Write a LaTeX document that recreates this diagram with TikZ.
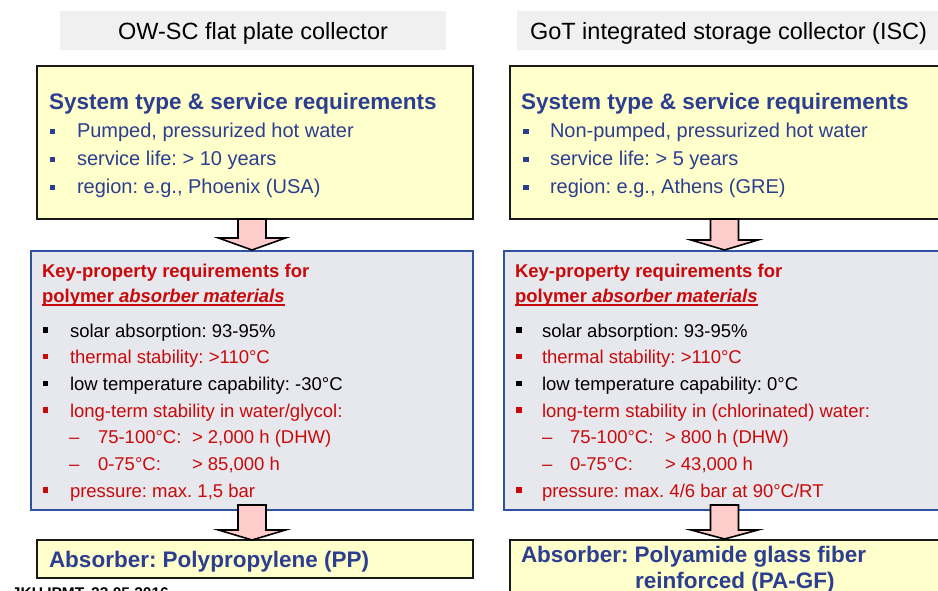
\documentclass[tikz,border=0pt]{standalone}
\usepackage{fontspec}
\setmainfont{Liberation Sans}
\frenchspacing
\definecolor{hdrgray}{RGB}{240,240,240}
\definecolor{paleyellow}{RGB}{255,255,204}
\definecolor{palegray}{RGB}{231,231,238}
\definecolor{frameblue}{RGB}{47,82,160}
\definecolor{pinkfill}{RGB}{255,204,204}
\definecolor{textblue}{RGB}{44,62,143}
\definecolor{textred}{RGB}{200,10,10}
\newcommand\ttlfont{\fontsize{23.5}{28}\selectfont}
\newcommand\headfont{\fontsize{22.5}{27}\selectfont\bfseries}
\newcommand\itemfont{\fontsize{20}{24}\selectfont}
\newcommand\keyfont{\fontsize{18.5}{22}\selectfont\bfseries}
\newcommand\listfont{\fontsize{18.5}{22}\selectfont}
\newcommand\footfont{\fontsize{15.5}{18}\selectfont\bfseries}
% small square bullet: centre x, centre y, half size, colour
\newcommand\sqbul[4]{\fill[#4] (#1-#3,#2-#3) rectangle (#1+#3,#2+#3);}
% block arrow: centre x, shaft top, head base, tip
\newcommand\blockarrow[4]{\draw[blockarr] (#1-14,#2) -- (#1-14,#3) -- (#1-33.5,#3) -- (#1,#4) -- (#1+33.5,#3) -- (#1+14,#3) -- (#1+14,#2) -- cycle;}
\begin{document}
\begin{tikzpicture}[x=1pt,y=-1pt,
  hdrbox/.style={fill=hdrgray, draw=none, inner sep=0pt},
  ybox/.style={fill=paleyellow, draw=black!90, line width=1.6pt, inner sep=0pt},
  gbox/.style={fill=palegray, draw=frameblue, line width=1.4pt, inner sep=0pt},
  blockarr/.style={fill=pinkfill, draw=black, line width=1.6pt, line join=miter},
  txt/.style={anchor=base west, inner sep=0pt, outer sep=0pt}]
\useasboundingbox (0,0) rectangle (938,591);

% column headers
\node[hdrbox, minimum width=386pt, minimum height=39pt] (hdrL) at (253,30.5) {};
\node[hdrbox, minimum width=428pt, minimum height=39pt] (hdrR) at (731,30.5) {};
\node[txt, anchor=base] (ttlL) at (253,40) {\ttlfont OW-SC flat plate collector};
\node[txt] (ttlR) at (530,40) {\ttlfont GoT integrated storage collector (ISC)};

% system boxes
\node[ybox, minimum width=436pt, minimum height=153pt] (sysL) at (255,142.5) {};
\node[ybox, minimum width=435pt, minimum height=153pt] (sysR) at (727.5,142.5) {};

% requirement boxes
\node[gbox, minimum width=442pt, minimum height=259pt] (keyL) at (252,380.5) {};
\node[gbox, minimum width=441pt, minimum height=259pt] (keyR) at (724.5,380.5) {};

% result boxes
\node[ybox, minimum width=436pt, minimum height=38pt] (absL) at (255,559) {};
\node[ybox, minimum width=435pt, minimum height=62pt] (absR) at (727.5,571) {};

% block arrows between the stages
\blockarrow{252}{219}{238}{250}
\blockarrow{724.5}{219}{240}{250}
\blockarrow{252}{505}{530}{540}
\blockarrow{724.5}{505}{530}{539}

% system box texts (left)
\node[txt, text=textblue] (sysLh) at (49,110) {\headfont System type \& service requirements};
\sqbul{52.5}{131.5}{2.9}{textblue}
\node[txt, text=textblue] (sysL1) at (77,138) {\itemfont Pumped, pressurized hot water};
\sqbul{52.5}{159.5}{2.9}{textblue}
\node[txt, text=textblue] (sysL2) at (77,166) {\itemfont service life: > 10 years};
\sqbul{52.5}{187.5}{2.9}{textblue}
\node[txt, text=textblue] (sysL3) at (77,194) {\itemfont region: e.g., Phoenix (USA)};

% system box texts (right)
\node[txt, text=textblue] (sysRh) at (521,110) {\headfont System type \& service requirements};
\sqbul{526}{131.5}{2.9}{textblue}
\node[txt, text=textblue] (sysR1) at (550,138) {\itemfont Non-pumped, pressurized hot water};
\sqbul{526}{159.5}{2.9}{textblue}
\node[txt, text=textblue] (sysR2) at (550,166) {\itemfont service life: > 5 years};
\sqbul{526}{187.5}{2.9}{textblue}
\node[txt, text=textblue] (sysR3) at (550,194) {\itemfont region: e.g., Athens (GRE)};

% requirement texts (left)
\node[txt, text=textred] (keyLa) at (42,277) {\keyfont Key-property requirements for};
\node[txt, text=textred] (keyLb) at (42,302) {\keyfont polymer \textit{absorber materials}};
\draw[textred, line width=1.3pt] ([yshift=-3pt]keyLb.base west) -- ([yshift=-3pt]keyLb.base east);
\sqbul{45.5}{330}{2.7}{black}
\node[txt] (l1) at (70,337) {\listfont solar absorption: 93-95\%};
\sqbul{45.5}{356.7}{2.7}{textred}
\node[txt, text=textred] (l2) at (70,363.7) {\listfont thermal stability: >110°C};
\sqbul{45.5}{383.3}{2.7}{black}
\node[txt] (l3) at (70,390.3) {\listfont low temperature capability: -30°C};
\sqbul{45.5}{410}{2.7}{textred}
\node[txt, text=textred] (l4) at (70,417) {\listfont long-term stability in water/glycol:};
\node[txt, text=textred] (l5d) at (69,443.7) {\listfont –};
\node[txt, text=textred] (l5a) at (98,443.7) {\listfont 75-100°C:};
\node[txt, text=textred] (l5b) at (192,443.7) {\listfont > 2,000 h (DHW)};
\node[txt, text=textred] (l6d) at (69,470.3) {\listfont –};
\node[txt, text=textred] (l6a) at (98,470.3) {\listfont 0-75°C:};
\node[txt, text=textred] (l6b) at (192,470.3) {\listfont > 85,000 h};
\sqbul{45.5}{490}{2.7}{textred}
\node[txt, text=textred] (l7) at (70,497) {\listfont pressure: max. 1,5 bar};

% requirement texts (right)
\node[txt, text=textred] (keyRa) at (515,277) {\keyfont Key-property requirements for};
\node[txt, text=textred] (keyRb) at (515,302) {\keyfont polymer \textit{absorber materials}};
\draw[textred, line width=1.3pt] ([yshift=-3pt]keyRb.base west) -- ([yshift=-3pt]keyRb.base east);
\sqbul{519}{330}{2.7}{black}
\node[txt] (r1) at (542,337) {\listfont solar absorption: 93-95\%};
\sqbul{519}{356.7}{2.7}{textred}
\node[txt, text=textred] (r2) at (542,363.7) {\listfont thermal stability: >110°C};
\sqbul{519}{383.3}{2.7}{black}
\node[txt] (r3) at (542,390.3) {\listfont low temperature capability: 0°C};
\sqbul{519}{410}{2.7}{textred}
\node[txt, text=textred] (r4) at (542,417) {\listfont long-term stability in (chlorinated) water:};
\node[txt, text=textred] (r5d) at (542,443.7) {\listfont –};
\node[txt, text=textred] (r5a) at (570,443.7) {\listfont 75-100°C:};
\node[txt, text=textred] (r5b) at (665,443.7) {\listfont > 800 h (DHW)};
\node[txt, text=textred] (r6d) at (542,470.3) {\listfont –};
\node[txt, text=textred] (r6a) at (570,470.3) {\listfont 0-75°C:};
\node[txt, text=textred] (r6b) at (665,470.3) {\listfont > 43,000 h};
\sqbul{519}{490}{2.7}{textred}
\node[txt, text=textred] (r7) at (542,497) {\listfont pressure: max. 4/6 bar at 90°C/RT};

% result texts
\node[txt, text=textblue] (absLt) at (49,567) {\headfont Absorber: Polypropylene (PP)};
\node[txt, text=textblue] (absRt1) at (521,562) {\headfont Absorber: Polyamide glass fiber};
\node[txt, text=textblue] (absRt2) at (635,588) {\headfont reinforced (PA-GF)};

% footer line, running off the lower edge
\node[txt] (foot) at (12,598.5) {\footfont JKU IPMT, 23.05.2016};
\end{tikzpicture}
\end{document}
